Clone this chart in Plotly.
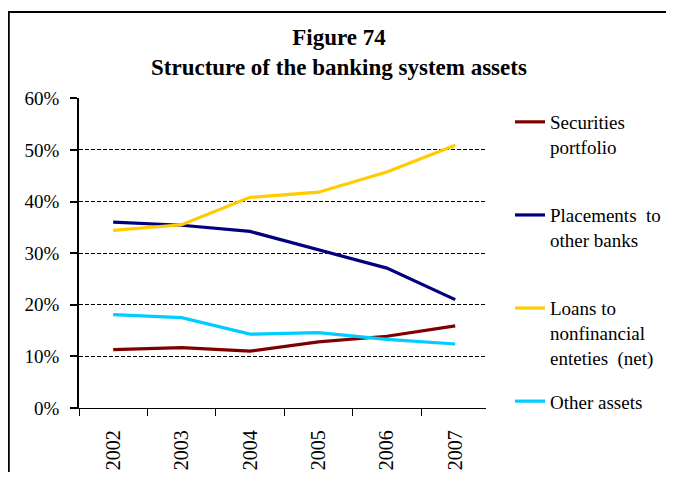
import plotly.graph_objects as go

years = ["2002", "2003", "2004", "2005", "2006", "2007"]
securities = [11.3, 11.7, 11.0, 12.8, 13.9, 15.9]
placements = [36.0, 35.4, 34.2, 30.6, 27.1, 21.0]
loans = [34.4, 35.5, 40.8, 41.8, 45.7, 50.9]
other = [18.1, 17.5, 14.3, 14.6, 13.3, 12.4]

series_names = ["Securities<br>portfolio<br> ", "Placements  to<br>other banks<br> ",
                "Loans to<br>nonfinancial<br>enteties  (net)", "Other assets"]
series_values = [securities, placements, loans, other]
series_colors = ["#800000", "#000080", "#FFCC00", "#00CCFF"]

FONT = "Liberation Serif, Times New Roman, serif"
OFF = 8  # default page body margin
W, H = 658, 464
L, R, T, B = 79 - OFF, 486 - OFF, 98 - OFF, 408 - OFF

fig = go.Figure()
for i, (name, vals, col) in enumerate(zip(series_names, series_values, series_colors)):
    fig.add_trace(go.Scatter(x=years, y=vals, mode="lines", name=name,
                             legendgroup=f"g{i}",
                             line=dict(color=col, width=3.2)))

def px_x(p):
    return (p - OFF - L) / (R - L)

def px_y(p):
    return (B - (p - OFF)) / (B - T)

fig.update_layout(
    width=W, height=H,
    margin=dict(l=L, r=W - R, t=T, b=H - B, autoexpand=False),
    paper_bgcolor="white", plot_bgcolor="white",
    font=dict(family=FONT, size=19, color="black"),
    showlegend=True,
    legend=dict(x=px_x(510), xanchor="left", y=px_y(103), yanchor="top",
                valign="top", tracegroupgap=16, maxheight=400,
                font=dict(size=19, family=FONT),
                bgcolor="rgba(0,0,0,0)"),
    xaxis=dict(type="category", range=[-0.5, 5.45], showgrid=False, showline=True,
               linecolor="black", linewidth=1.3, ticks="outside", ticklen=7,
               tickcolor="black", tickwidth=1.3, tickson="boundaries", tickangle=-90,
               automargin=False, ticklabelstandoff=13,
               tickfont=dict(size=20, family=FONT)),
    yaxis=dict(range=[0, 60.05], tickvals=[0, 10, 20, 30, 40, 50, 60],
               ticktext=["0%", "10%", "20%", "30%", "40%", "50%", "60%"],
               showgrid=True, automargin=False,
               gridcolor="black", gridwidth=1.3, griddash="4px,2px",
               zeroline=False, showline=True, linecolor="black", linewidth=1.5,
               ticks="outside", ticklen=7, tickcolor="black", tickwidth=1.5,
               ticklabelstandoff=7, tickfont=dict(size=19, family=FONT)),
    shapes=[
        dict(type="line", xref="paper", yref="paper",
             x0=px_x(8.5), x1=px_x(8.5), y0=px_y(500), y1=px_y(12),
             line=dict(color="black", width=2.5), layer="below"),
        dict(type="line", xref="paper", yref="paper",
             x0=px_x(7), x1=px_x(680), y0=px_y(12), y1=px_y(12),
             line=dict(color="black", width=2), layer="below"),
    ],
    annotations=[dict(text="<b>Figure 74</b><br><b>Structure of the banking system assets</b>",
                      xref="paper", yref="paper", x=px_x(339), y=px_y(23),
                      xanchor="center", yanchor="top", showarrow=False,
                      font=dict(size=23, family=FONT, color="black"))],
)

fig.write_html("out.html")
